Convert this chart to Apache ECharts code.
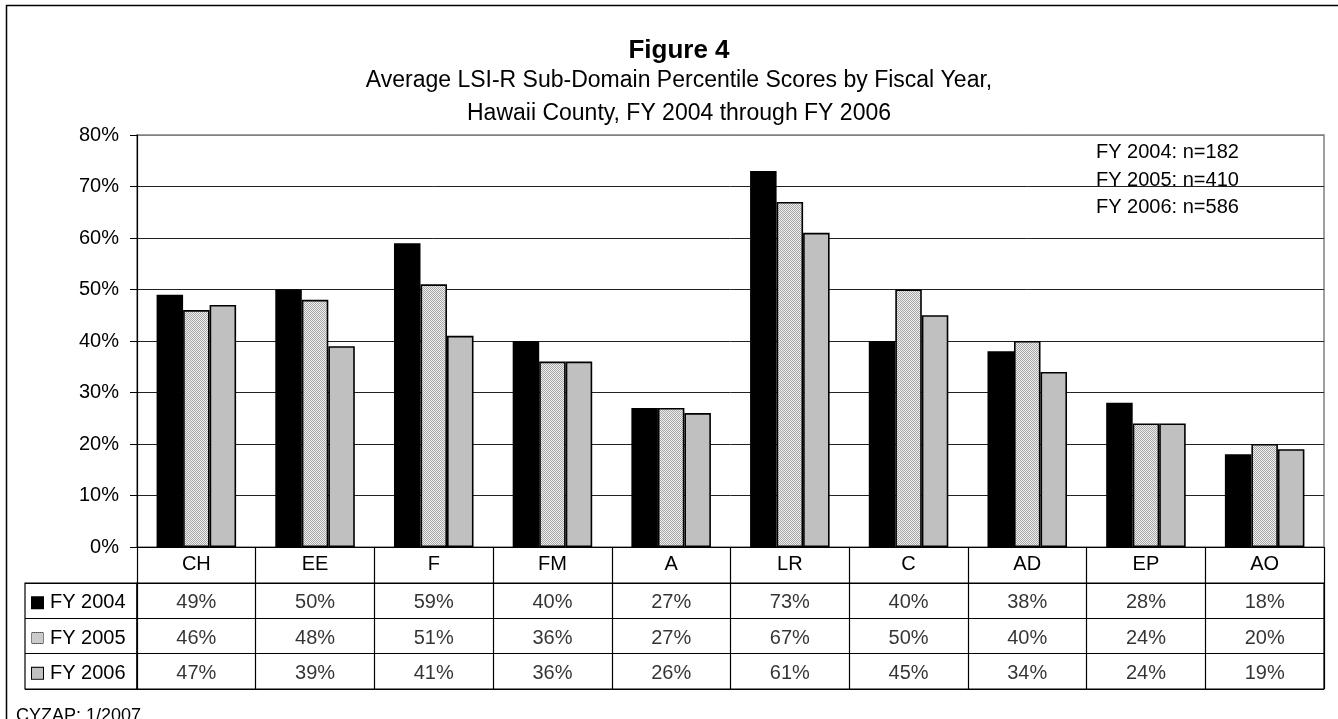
<!DOCTYPE html>
<html>
<head>
<meta charset="utf-8">
<script src="https://cdn.jsdelivr.net/npm/echarts@6/dist/echarts.min.js"></script>
<style>
  html, body { margin: 0; padding: 0; background: #fff; }
  #chart { width: 1338px; height: 719px; }
</style>
</head>
<body>
<div id="chart"></div>
<script>
// Sub-domain codes along the x axis
const categories = ['CH', 'EE', 'F', 'FM', 'A', 'LR', 'C', 'AD', 'EP', 'AO'];
const years = ['FY 2004', 'FY 2005', 'FY 2006'];
// Average percentile scores (%) per fiscal year
const fy2004 = [49, 50, 59, 40, 27, 73, 40, 38, 28, 18];
const fy2005 = [46, 48, 51, 36, 27, 67, 50, 40, 24, 20];
const fy2006 = [47, 39, 41, 36, 26, 61, 45, 34, 24, 19];
const sampleSizes = ['FY 2004: n=182', 'FY 2005: n=410', 'FY 2006: n=586'];
const yTicks = [0, 10, 20, 30, 40, 50, 60, 70, 80];

const FONT = 'Liberation Sans, Arial, sans-serif';

// Fine one-pixel stipple (checker) used for the FY 2005 fill
function makeStipple(size) {
  const c = document.createElement('canvas');
  c.width = size; c.height = size;
  const ctx = c.getContext('2d');
  ctx.fillStyle = '#eeeeee';
  ctx.fillRect(0, 0, size, size);
  ctx.fillStyle = '#a8a8a8';
  for (let y = 0; y < size; y++) {
    for (let x = 0; x < size; x++) {
      if ((x + y) % 2 === 0) ctx.fillRect(x, y, 1, 1);
    }
  }
  return c;
}
const stipple = { image: makeStipple(2), repeat: 'repeat' };
const stippleKey = { image: makeStipple(11) };

const seriesValues = [fy2004, fy2005, fy2006];
const fills = ['#000000', stipple, '#c0c0c0'];

const chart = echarts.init(document.getElementById('chart'), null, { renderer: 'canvas' });

const bars = years.map((name, k) => ({
  name: name,
  type: 'bar',
  xAxisIndex: 0,
  yAxisIndex: 0,
  data: seriesValues[k],
  barGap: '0%',
  barCategoryGap: '33%',
  itemStyle: { color: fills[k], borderColor: '#000', borderWidth: 1.6 },
  emphasis: { disabled: true },
  animation: false
}));

// Data table cells: one text label per category/year
const cells = years.map((name, k) => ({
  name: name + ' table',
  type: 'scatter',
  xAxisIndex: 1,
  yAxisIndex: 1,
  symbolSize: 0,
  data: seriesValues[k].map((v, i) => [categories[i], name, v]),
  label: {
    show: true,
    position: 'inside',
    offset: [0, 2],
    formatter: p => p.value[2] + '%',
    color: '#000',
    fontFamily: FONT,
    fontSize: 20
  },
  emphasis: { disabled: true },
  animation: false
}));

// Legend keys drawn as rich-text swatches in the table's first column
const keyRich = {
  k0: { width: 11, height: 11, backgroundColor: '#000', borderColor: '#000', borderWidth: 1 },
  k1: { width: 11, height: 11, backgroundColor: stippleKey, borderColor: '#000', borderWidth: 1 },
  k2: { width: 11, height: 11, backgroundColor: '#c0c0c0', borderColor: '#000', borderWidth: 1 },
  t: { fontFamily: FONT, fontSize: 20, color: '#000', padding: [0, 0, 0, 7] }
};

// Gridlines are dark; the top one (80%) sits on the grey plot frame
const gridLineColors = yTicks.map(v => (v === 80 ? '#808080' : '#222222'));

const option = {
  backgroundColor: '#fff',
  animation: false,
  title: [
    { text: 'Figure 4', left: 674, top: 32, textAlign: 'center',
      textStyle: { fontFamily: FONT, fontSize: 26, fontWeight: 'bold', color: '#000', lineHeight: 28 } },
    { text: 'Average LSI-R Sub-Domain Percentile Scores by Fiscal Year,\nHawaii County, FY 2004 through FY 2006',
      left: 674, top: 59, textAlign: 'center',
      textStyle: { fontFamily: FONT, fontSize: 23, fontWeight: 'normal', color: '#000', lineHeight: 33 } },
    { text: sampleSizes.join('\n'), left: 1091, top: 134,
      textStyle: { fontFamily: FONT, fontSize: 20, fontWeight: 'normal', color: '#000', lineHeight: 27.5 } },
    { text: 'CYZAP; 1/2007', left: 11, top: 702,
      textStyle: { fontFamily: FONT, fontSize: 18, fontWeight: 'normal', color: '#000', lineHeight: 18 } }
  ],
  grid: [
    { left: 137, right: 14, top: 135, bottom: 172, show: true, borderColor: '#808080', borderWidth: 1.5 },
    { left: 137, right: 14, top: 583, height: 106, show: true, borderColor: '#000', borderWidth: 1.2 },
    { left: 25, width: 112, top: 583, height: 106, show: true, borderColor: '#000', borderWidth: 1.2 }
  ],
  xAxis: [
    { type: 'category', gridIndex: 0, data: categories,
      axisLine: { lineStyle: { color: '#000', width: 1.2 } },
      axisTick: { show: true, length: 36, interval: 0, lineStyle: { color: '#000', width: 1.2 } },
      axisLabel: { margin: 7, interval: 0, fontFamily: FONT, fontSize: 20, color: '#000' } },
    { type: 'category', gridIndex: 1, data: categories,
      axisLine: { show: false }, axisTick: { show: false }, axisLabel: { show: false },
      splitLine: { show: true, interval: 0, lineStyle: { color: '#000', width: 1.2 } } },
    { type: 'value', gridIndex: 2, show: false }
  ],
  yAxis: [
    { type: 'value', gridIndex: 0, min: 0, max: 80, interval: 10,
      axisLine: { show: true, lineStyle: { color: '#000', width: 1.2 } },
      axisTick: { show: true, length: 7, lineStyle: { color: '#000' } },
      axisLabel: { margin: 18, formatter: v => (yTicks.includes(v) ? v + '%' : ''),
        fontFamily: FONT, fontSize: 20, color: '#000' },
      splitLine: { show: true, lineStyle: { color: gridLineColors, width: 1 } } },
    { type: 'category', gridIndex: 1, data: years, inverse: true,
      axisLine: { show: false }, axisTick: { show: false }, axisLabel: { show: false },
      splitLine: { show: true, interval: 0, lineStyle: { color: '#000', width: 1.2 } } },
    { type: 'category', gridIndex: 2, data: years, inverse: true,
      axisLine: { show: false }, axisTick: { show: false },
      axisLabel: { show: true, inside: true, margin: 7, align: 'left', verticalAlign: 'middle',
        formatter: (v, i) => '{k' + i + '|}{t|' + v + '}', rich: keyRich, padding: [4, 0, 0, 0] },
      splitLine: { show: true, interval: 0, lineStyle: { color: '#000', width: 1.2 } } }
  ],
  graphic: [
    { type: 'rect', silent: true, z: -1,
      shape: { x: 6.5, y: 5.5, width: 1400, height: 800 },
      style: { fill: null, stroke: '#000', lineWidth: 1.5 } }
  ],
  series: bars.concat(cells)
};

chart.setOption(option);
</script>
</body>
</html>
